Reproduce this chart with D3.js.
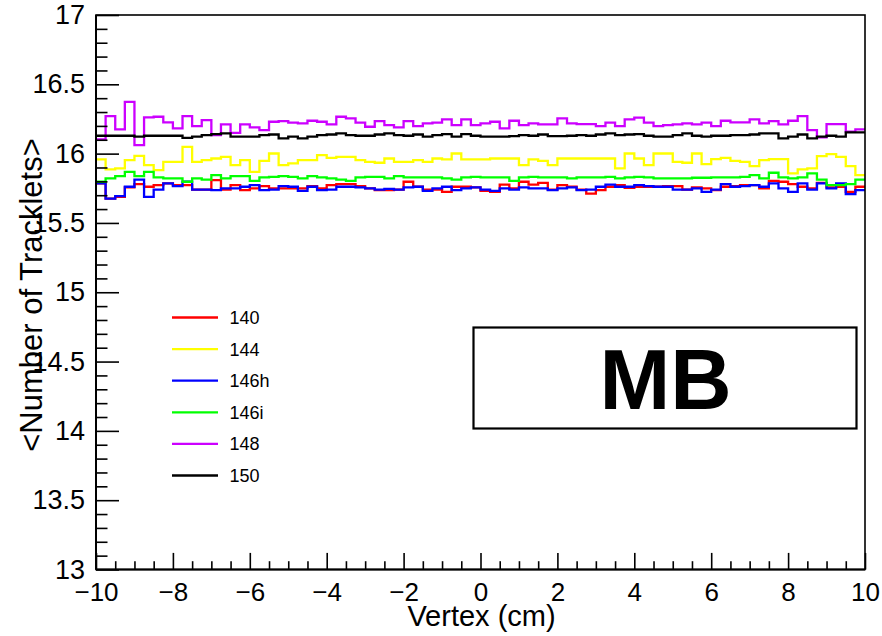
<!DOCTYPE html>
<html>
<head>
<meta charset="utf-8">
<script src="https://cdn.jsdelivr.net/npm/d3@7"></script>
<style>
  html, body { margin: 0; padding: 0; background: #fff; }
  svg { display: block; font-family: "Liberation Sans", Arial, Helvetica, sans-serif; }
</style>
</head>
<body>
<svg id="chart" width="882" height="636"></svg>
<script>
// Histogram binning along the vertex axis (80 bins of 0.25 cm)
const xMin = -10, xMax = 10, nBins = 80;

// Mean tracklet multiplicity per vertex bin, one array per run group
const h140 = [
  15.785, 15.676, 15.688, 15.756, 15.780, 15.761, 15.773, 15.785, 15.773, 15.773,
  15.741, 15.741, 15.809, 15.741, 15.773, 15.736, 15.749, 15.765, 15.749, 15.749,
  15.749, 15.749, 15.765, 15.749, 15.773, 15.780, 15.780, 15.765, 15.749, 15.736,
  15.736, 15.741, 15.797, 15.761, 15.741, 15.741, 15.724, 15.761, 15.761, 15.756,
  15.732, 15.724, 15.777, 15.749, 15.797, 15.777, 15.789, 15.741, 15.773, 15.761,
  15.741, 15.712, 15.736, 15.761, 15.773, 15.753, 15.761, 15.761, 15.761, 15.765,
  15.765, 15.741, 15.756, 15.749, 15.736, 15.761, 15.765, 15.773, 15.773, 15.749,
  15.804, 15.797, 15.780, 15.761, 15.749, 15.789, 15.756, 15.761, 15.724, 15.761
];
const h144 = [
  15.958, 15.886, 15.893, 15.953, 15.984, 15.917, 15.881, 15.941, 15.941, 16.049,
  15.941, 15.953, 15.965, 15.977, 15.917, 15.953, 15.869, 15.948, 16.001, 15.917,
  15.929, 15.953, 15.953, 15.989, 15.970, 15.977, 15.977, 15.953, 15.941, 15.934,
  15.965, 15.941, 15.941, 15.953, 15.941, 15.965, 15.958, 16.001, 15.958, 15.958,
  15.958, 15.965, 15.965, 15.965, 15.917, 15.958, 15.948, 15.917, 15.965, 15.965,
  15.965, 15.965, 15.965, 15.965, 15.893, 16.001, 15.965, 15.917, 16.001, 16.001,
  15.941, 15.934, 16.001, 15.924, 15.960, 15.970, 15.948, 15.941, 15.910, 15.953,
  15.960, 15.960, 15.857, 15.886, 15.893, 15.982, 15.996, 15.977, 15.910, 15.845
];
const h146h = [
  15.785, 15.676, 15.693, 15.761, 15.813, 15.688, 15.741, 15.785, 15.765, 15.797,
  15.741, 15.741, 15.736, 15.749, 15.749, 15.761, 15.773, 15.736, 15.741, 15.765,
  15.761, 15.732, 15.761, 15.736, 15.741, 15.761, 15.761, 15.756, 15.749, 15.741,
  15.746, 15.741, 15.756, 15.761, 15.732, 15.749, 15.761, 15.736, 15.749, 15.756,
  15.741, 15.732, 15.749, 15.741, 15.756, 15.749, 15.749, 15.736, 15.749, 15.756,
  15.736, 15.741, 15.761, 15.777, 15.761, 15.761, 15.773, 15.765, 15.761, 15.761,
  15.741, 15.741, 15.749, 15.724, 15.741, 15.780, 15.761, 15.765, 15.773, 15.761,
  15.785, 15.749, 15.724, 15.785, 15.741, 15.785, 15.749, 15.785, 15.708, 15.736
];
const h146i = [
  15.797, 15.821, 15.838, 15.869, 15.838, 15.869, 15.828, 15.821, 15.821, 15.797,
  15.821, 15.813, 15.845, 15.821, 15.838, 15.838, 15.804, 15.828, 15.833, 15.838,
  15.833, 15.821, 15.838, 15.828, 15.821, 15.813, 15.804, 15.828, 15.833, 15.833,
  15.821, 15.838, 15.828, 15.828, 15.828, 15.828, 15.821, 15.813, 15.828, 15.833,
  15.828, 15.828, 15.828, 15.804, 15.828, 15.833, 15.828, 15.828, 15.828, 15.821,
  15.828, 15.828, 15.828, 15.833, 15.821, 15.828, 15.833, 15.828, 15.821, 15.821,
  15.821, 15.821, 15.826, 15.826, 15.828, 15.828, 15.828, 15.833, 15.845, 15.821,
  15.862, 15.828, 15.821, 15.828, 15.857, 15.813, 15.773, 15.773, 15.780, 15.813
];
const h148 = [
  16.102, 16.271, 16.175, 16.374, 16.061, 16.261, 16.266, 16.225, 16.182, 16.271,
  16.199, 16.242, 16.134, 16.211, 16.150, 16.211, 16.189, 16.170, 16.230, 16.235,
  16.223, 16.218, 16.237, 16.230, 16.211, 16.266, 16.254, 16.223, 16.194, 16.235,
  16.206, 16.189, 16.235, 16.199, 16.218, 16.223, 16.247, 16.206, 16.247, 16.206,
  16.218, 16.230, 16.182, 16.237, 16.206, 16.218, 16.211, 16.211, 16.254, 16.218,
  16.213, 16.213, 16.199, 16.223, 16.199, 16.247, 16.259, 16.223, 16.199, 16.206,
  16.211, 16.218, 16.211, 16.223, 16.199, 16.237, 16.225, 16.225, 16.247, 16.218,
  16.235, 16.211, 16.237, 16.271, 16.170, 16.117, 16.213, 16.213, 16.158, 16.175
];
const h150 = [
  16.129, 16.129, 16.129, 16.129, 16.122, 16.129, 16.129, 16.129, 16.129, 16.114,
  16.122, 16.134, 16.141, 16.146, 16.122, 16.122, 16.122, 16.134, 16.138, 16.110,
  16.122, 16.110, 16.122, 16.134, 16.138, 16.146, 16.134, 16.129, 16.129, 16.138,
  16.146, 16.134, 16.129, 16.138, 16.122, 16.134, 16.141, 16.122, 16.141, 16.129,
  16.122, 16.122, 16.122, 16.126, 16.134, 16.129, 16.138, 16.126, 16.126, 16.129,
  16.134, 16.129, 16.138, 16.146, 16.134, 16.138, 16.141, 16.129, 16.122, 16.122,
  16.134, 16.146, 16.129, 16.122, 16.129, 16.129, 16.134, 16.134, 16.138, 16.146,
  16.146, 16.110, 16.122, 16.138, 16.110, 16.122, 16.129, 16.122, 16.153, 16.153
];

const seriesNames = ["140", "144", "146h", "146i", "148", "150"];
const seriesColors = ["#ff0000", "#ffff00", "#0000ff", "#00ff00", "#cc00ff", "#000000"];
const seriesValues = [h140, h144, h146h, h146i, h148, h150];

// Axis ticks and labels
const yMajorTicks = [13, 13.5, 14, 14.5, 15, 15.5, 16, 16.5, 17];
const yTickLabels = ["13", "13.5", "14", "14.5", "15", "15.5", "16", "16.5", "17"];
const xMajorTicks = [-10, -8, -6, -4, -2, 0, 2, 4, 6, 8, 10];
const xTickLabels = ["\u221210", "\u22128", "\u22126", "\u22124", "\u22122", "0", "2", "4", "6", "8", "10"];
const xTitle = "Vertex (cm)";
const yTitle = "<Number of Tracklets>";
const boxLabel = "MB";

const frame = { left: 96, right: 865, top: 15, bottom: 569.5 };

const svg = d3.select("#chart");

const x = d3.scaleLinear().domain([xMin, xMax]).range([frame.left, frame.right]);
const y = d3.scaleLinear().domain([13, 17]).range([frame.bottom, frame.top]);

const binWidth = (xMax - xMin) / nBins;
const binEdges = d3.range(nBins + 1).map(i => xMin + i * binWidth);

// Histograms drawn as step outlines
const stepLine = d3.line().x(d => x(d[0])).y(d => y(d[1]));
const hists = svg.append("g").attr("class", "hists");
seriesValues.forEach((vals, k) => {
  const pts = [];
  vals.forEach((v, i) => { pts.push([binEdges[i], v]); pts.push([binEdges[i + 1], v]); });
  hists.append("path")
    .attr("d", stepLine(pts))
    .attr("fill", "none")
    .attr("stroke", seriesColors[k])
    .attr("stroke-width", 2.3)
    .attr("stroke-linejoin", "miter");
});

// Frame (top and right edges)
svg.append("rect")
  .attr("x", frame.left).attr("y", frame.top)
  .attr("width", frame.right - frame.left).attr("height", frame.bottom - frame.top)
  .attr("fill", "none").attr("stroke", "#000").attr("stroke-width", 1.6);

// Y axis: minor ticks, then major ticks with labels
const yMinor = d3.range(130, 171).map(v => v / 10).filter(v => !yMajorTicks.includes(v));
const yAxisMinor = d3.axisLeft(y).tickValues(yMinor).tickSize(-11.5).tickFormat("");
const yAxisMajor = d3.axisLeft(y).tickValues(yMajorTicks).tickSize(-23).tickPadding(11)
  .tickFormat((d, i) => yTickLabels[i]);

const gyMinor = svg.append("g").attr("transform", `translate(${frame.left},0)`).call(yAxisMinor);
const gy = svg.append("g").attr("transform", `translate(${frame.left},0)`).call(yAxisMajor);
[gyMinor, gy].forEach(g => {
  g.select(".domain").remove();
  g.selectAll("line").attr("stroke", "#000").attr("stroke-width", 1.6);
});
gy.selectAll("text")
  .attr("fill", "#000")
  .style("font-size", "27px");

// X axis: minor ticks, then major ticks with labels
const xMinor = d3.range(-20, 21).map(v => v / 2).filter(v => !xMajorTicks.includes(v));
const xAxisMinor = d3.axisBottom(x).tickValues(xMinor).tickSize(-8.3).tickFormat("");
const xAxisMajor = d3.axisBottom(x).tickValues(xMajorTicks).tickSize(-16.6)
  .tickFormat((d, i) => xTickLabels[i]);

const gxMinor = svg.append("g").attr("transform", `translate(0,${frame.bottom})`).call(xAxisMinor);
const gx = svg.append("g").attr("transform", `translate(0,${frame.bottom})`).call(xAxisMajor);
[gxMinor, gx].forEach(g => {
  g.select(".domain").remove();
  g.selectAll("line").attr("stroke", "#000").attr("stroke-width", 1.6);
});
gx.selectAll("text")
  .attr("fill", "#000")
  .attr("y", 31.5)
  .attr("dy", 0)
  .style("font-size", "26px");

// Axis lines on top of everything
svg.append("line")
  .attr("x1", frame.left).attr("x2", frame.left)
  .attr("y1", frame.top).attr("y2", frame.bottom)
  .attr("stroke", "#000").attr("stroke-width", 2);
svg.append("line")
  .attr("x1", frame.left).attr("x2", frame.right)
  .attr("y1", frame.bottom).attr("y2", frame.bottom)
  .attr("stroke", "#000").attr("stroke-width", 2);

// Axis titles
svg.append("text")
  .attr("x", (frame.left + frame.right) / 2 + 1)
  .attr("y", 626)
  .attr("text-anchor", "middle")
  .style("font-size", "29px")
  .text(xTitle);

svg.append("text")
  .attr("transform", `translate(42,295) rotate(-90)`)
  .attr("text-anchor", "middle")
  .style("font-size", "31px")
  .text(yTitle);

// Legend
const legend = svg.append("g").attr("class", "legend");
seriesNames.forEach((name, k) => {
  const ry = 317.5 + k * 31.6;
  legend.append("line")
    .attr("x1", 172).attr("x2", 218)
    .attr("y1", ry).attr("y2", ry)
    .attr("stroke", seriesColors[k]).attr("stroke-width", 2.3);
  legend.append("text")
    .attr("x", 229.5).attr("y", ry + 6.5)
    .style("font-size", "18px")
    .text(name);
});

// Trigger label box
svg.append("rect")
  .attr("x", 473.5).attr("y", 327.5)
  .attr("width", 383).attr("height", 101)
  .attr("fill", "#fff").attr("stroke", "#000").attr("stroke-width", 2.2);
svg.append("text")
  .attr("x", 665.5).attr("y", 409)
  .attr("text-anchor", "middle")
  .style("font-size", "85px")
  .style("font-weight", "bold")
  .text(boxLabel);
</script>
</body>
</html>
